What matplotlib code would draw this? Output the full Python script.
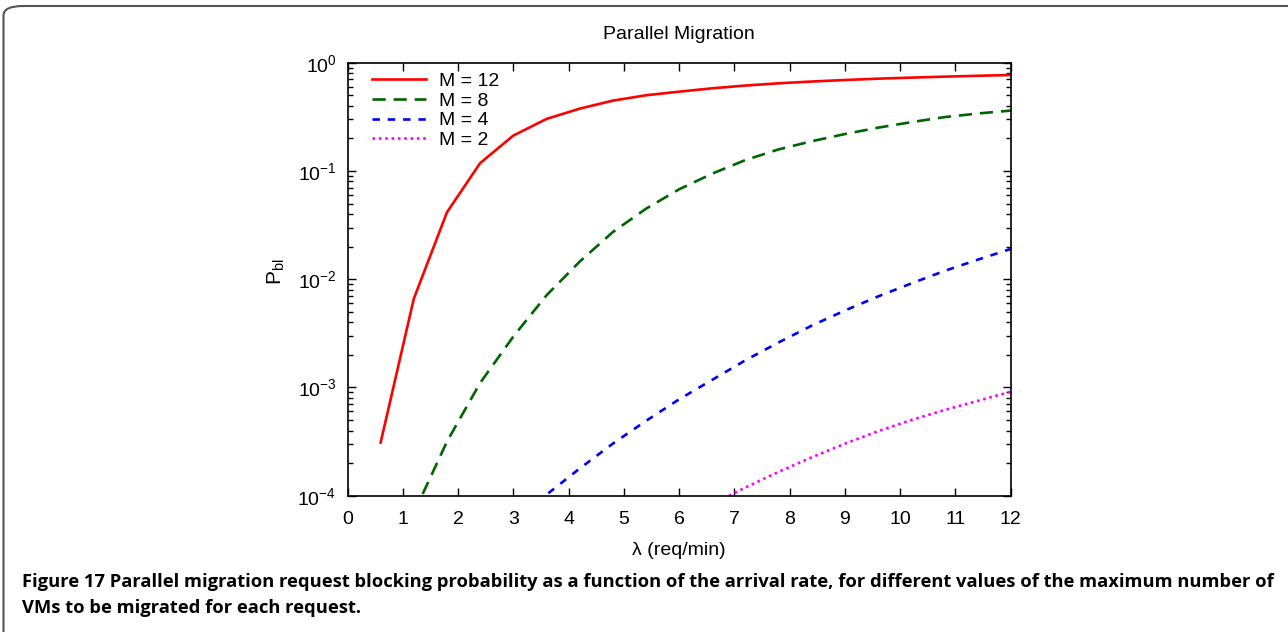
import numpy as np
import matplotlib
matplotlib.use("Agg")
import matplotlib.pyplot as plt
from matplotlib.patches import FancyBboxPatch
from matplotlib.ticker import LogLocator, FixedLocator, NullFormatter

plt.rcParams["font.family"] = ["Liberation Sans", "DejaVu Sans"]
plt.rcParams["mathtext.fontset"] = "custom"
plt.rcParams["mathtext.rm"] = "Liberation Sans"
plt.rcParams["mathtext.it"] = "Liberation Sans"
plt.rcParams["mathtext.default"] = "regular"

# arrival rate (req/min), sampled every 0.6
lam = [0.6, 1.2, 1.8, 2.4, 3.0, 3.6, 4.2, 4.8, 5.4, 6.0,
       6.6, 7.2, 7.8, 8.4, 9.0, 9.6, 10.2, 10.8, 11.4, 12.0]

# blocking probability
pbl_m12 = [3.1e-4, 6.6e-3, 0.0415, 0.118, 0.212, 0.302, 0.376, 0.446, 0.50, 0.54,
           0.58, 0.615, 0.645, 0.67, 0.692, 0.712, 0.728, 0.743, 0.757, 0.77]
pbl_m8 = [np.nan, 6.9e-5, 3.16e-4, 1.1e-3, 2.95e-3, 7.08e-3, 0.0145, 0.0272, 0.0447, 0.0676,
          0.0944, 0.126, 0.158, 0.188, 0.219, 0.251, 0.282, 0.314, 0.339, 0.361]
pbl_m4 = [np.nan, np.nan, np.nan, np.nan, 5.6e-5, 1.02e-4, 1.78e-4, 3.02e-4, 4.9e-4, 7.76e-4,
          1.175e-3, 1.78e-3, 2.6e-3, 3.72e-3, 5.13e-3, 6.92e-3, 9.12e-3, 0.0119, 0.0151, 0.019]
pbl_m2 = [np.nan] * 10 + [8.3e-5, 1.19e-4, 1.66e-4, 2.26e-4, 3.02e-4, 3.94e-4, 5.0e-4,
                          6.17e-4, 7.5e-4, 9.12e-4]

xticks = list(range(0, 13))
yticks = [1e-4, 1e-3, 1e-2, 1e-1, 1e0]
ytick_labels = [r"$10^{-4}$", r"$10^{-3}$", r"$10^{-2}$", r"$10^{-1}$", r"$10^{0}$"]

caption_1 = ("Figure 17 Parallel migration request blocking probability as a function of the "
             "arrival rate, for different values of the maximum number of")
caption_2 = "VMs to be migrated for each request."

fig = plt.figure(figsize=(12.88, 6.32), dpi=100)

# rounded frame, cut off on the right and bottom like the page crop
frame = FancyBboxPatch((3.5 / 1288, -0.2), 1.2, 1.2 - 6 / 632,
                       boxstyle="round,pad=0,rounding_size=0.015",
                       transform=fig.transFigure, fill=False,
                       edgecolor="#555555", linewidth=1.5, clip_on=False)
fig.patches.append(frame)

ax = fig.add_axes([347.5 / 1288, 136.3 / 632, 663 / 1288, 433 / 632])

ax.plot(lam, pbl_m12, color="#ff0000", lw=1.9, ls="-", label="M = 12")
ax.plot(lam, pbl_m8, color="#006400", lw=1.9, ls=(0, (5, 3)), label="M = 8")
ax.plot(lam, pbl_m4, color="#0000ff", lw=1.9, ls=(0, (2.8, 3)), label="M = 4")
ax.plot(lam, pbl_m2, color="#ff00ff", lw=1.9, ls=(0, (1, 1.4)), label="M = 2")

ax.set_yscale("log")
ax.set_xlim(0, 12)
ax.set_ylim(1e-4, 1)
ax.xaxis.set_major_locator(FixedLocator(xticks))
ax.set_yticks(yticks)
ax.set_yticklabels(ytick_labels)
ax.yaxis.set_minor_locator(LogLocator(base=10, subs=np.arange(2, 10)))
ax.yaxis.set_minor_formatter(NullFormatter())
ax.tick_params(which="both", direction="in", top=True, right=True, labelsize=14)
ax.tick_params(axis="x", which="major", pad=11)
ax.tick_params(axis="y", which="major", pad=8)
ax.tick_params(which="major", length=6, width=1)
ax.tick_params(which="minor", length=3.5, width=1)
for s in ax.spines.values():
    s.set_linewidth(1.2)

ax.set_title("Parallel Migration", fontsize=14, pad=17)
ax.set_xlabel("λ (req/min)", fontsize=14, labelpad=10)
ax.set_ylabel(r"$P_{bl}$", fontsize=15)
ax.yaxis.set_label_coords(-0.0913, 0.517)

ax.legend(loc="upper left", frameon=False, fontsize=14, handlelength=2.8,
          handletextpad=0.67, labelspacing=0.1, borderaxespad=0.0,
          bbox_to_anchor=(0.025, 0.995))

# caption, sized to span the same width as the reference line
cap_font = ["Open Sans", "DejaVu Sans"]
t1 = fig.text(22 / 1288, 1 - 582 / 632, caption_1, fontsize=13.5, fontweight="bold",
              family=cap_font, va="center", ha="left")
t2 = fig.text(22 / 1288, 1 - 608 / 632, caption_2, fontsize=13.5, fontweight="bold",
              family=cap_font, va="center", ha="left")
r = fig.canvas.get_renderer()
w = t1.get_window_extent(renderer=r).width
size = 13.5 * 1250 / w
t1.set_fontsize(size)
t2.set_fontsize(size)

fig.savefig("out.png", dpi=100)
